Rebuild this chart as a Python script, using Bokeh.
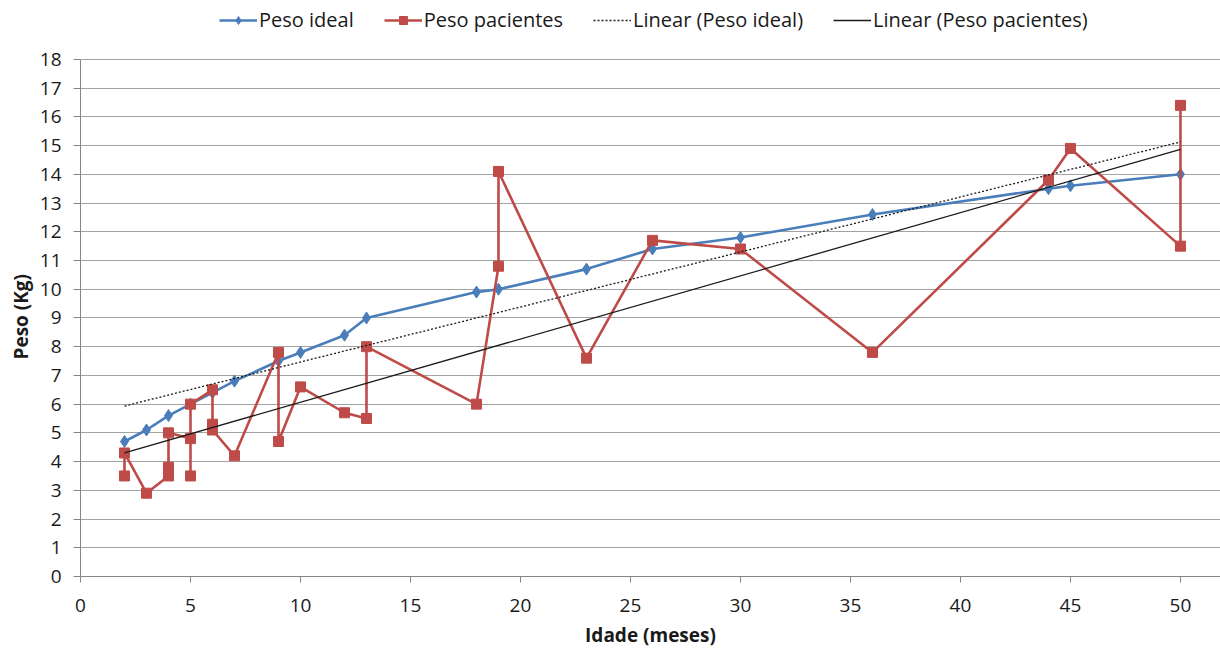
import numpy as np
from bokeh.plotting import figure
from bokeh.models import Range1d, FixedTicker, Legend, LegendItem, Title
from bokeh.embed import file_html
from bokeh.resources import INLINE

# Weight (kg) by age (months): reference weights and measured patients
ideal_age = [2, 3, 4, 5, 6, 7, 9, 10, 12, 13, 18, 19, 23, 26, 30, 36, 44, 45, 50]
ideal_weight = [4.7, 5.1, 5.6, 6.0, 6.4, 6.8, 7.5, 7.8, 8.4, 9.0, 9.9, 10.0,
                10.7, 11.4, 11.8, 12.6, 13.5, 13.6, 14.0]

patient_age = [2, 2, 3, 4, 4, 4, 5, 5, 5, 6, 6, 6, 7, 9, 9, 10, 12, 13, 13,
               18, 19, 19, 23, 26, 30, 36, 44, 45, 50, 50]
patient_weight = [3.5, 4.3, 2.9, 3.5, 3.8, 5.0, 4.8, 3.5, 6.0, 6.5, 5.3, 5.1,
                  4.2, 7.8, 4.7, 6.6, 5.7, 5.5, 8.0, 6.0, 10.8, 14.1, 7.6,
                  11.7, 11.4, 7.8, 13.8, 14.9, 11.5, 16.4]

x_ticks = [0, 5, 10, 15, 20, 25, 30, 35, 40, 45, 50]
y_ticks = list(range(0, 19))

FONT = "Open Sans"
BLUE = "#4a7ebb"
RED = "#be4b48"

# the frame also holds the legend strip above the 0-18 kg band
p = figure(width=1220, height=650, output_backend="svg", toolbar_location=None,
           x_range=Range1d(0, 51.82), y_range=Range1d(0, 20.05),
           min_border_left=80, min_border_right=0, min_border_top=0,
           min_border_bottom=73)
p.outline_line_color = None
p.background_fill_color = "white"
p.border_fill_color = "white"

# grid
p.xgrid.grid_line_color = None
p.ygrid.ticker = FixedTicker(ticks=y_ticks)
p.ygrid.grid_line_color = "#a3a3a3"
p.ygrid.grid_line_width = 1

# axes
for ax in (p.xaxis[0], p.yaxis[0]):
    ax.axis_line_color = "#868686"
    ax.major_tick_line_color = "#868686"
    ax.minor_tick_line_color = None
    ax.major_tick_in = 0
    ax.major_label_text_font = FONT
    ax.major_label_text_font_size = "19px"
    ax.major_label_text_color = "#1a1a1a"
    ax.axis_label_text_font = FONT
    ax.axis_label_text_font_size = "19px"
    ax.axis_label_text_font_style = "bold"
    ax.axis_label_text_color = "#1a1a1a"

p.xaxis.ticker = FixedTicker(ticks=x_ticks)
p.xaxis.major_tick_out = 6
p.xaxis.major_label_standoff = 16
p.xaxis.axis_label = "Idade (meses)"
p.xaxis.axis_label_standoff = 7

p.yaxis.ticker = FixedTicker(ticks=y_ticks)
p.yaxis.bounds = (0, 18)
p.yaxis.major_tick_out = 7
p.yaxis.major_label_standoff = 12

# y axis title, centred on the 0-18 band
p.add_layout(Title(text="Peso (Kg)", align="left", offset=217, standoff=6,
                   text_font=FONT, text_font_size="19px", text_font_style="bold",
                   text_color="#1a1a1a"), "left")

# series
ideal_line = p.line(ideal_age, ideal_weight, line_color=BLUE, line_width=2.6)
ideal_mark = p.scatter(ideal_age, ideal_weight, marker="diamond", size=12,
                       fill_color=BLUE, line_color=BLUE)

pat_line = p.line(patient_age, patient_weight, line_color=RED, line_width=2.6)
pat_mark = p.scatter(patient_age, patient_weight, marker="square", size=10,
                     fill_color=RED, line_color=RED)

# least-squares trend lines over each series' age span
def trend(xs, ys):
    k, b = np.polyfit(np.asarray(xs, float), np.asarray(ys, float), 1)
    x0, x1 = min(xs), max(xs)
    return [x0, x1], [k * x0 + b, k * x1 + b]

tx, ty = trend(ideal_age, ideal_weight)
ideal_trend = p.line(tx, ty, line_color="#1a1a1a", line_width=1.3, line_dash="2 2")
tx, ty = trend(patient_age, patient_weight)
pat_trend = p.line(tx, ty, line_color="#1a1a1a", line_width=1.3)

legend = Legend(items=[
    LegendItem(label="Peso ideal", renderers=[ideal_line, ideal_mark]),
    LegendItem(label="Peso pacientes", renderers=[pat_line, pat_mark]),
    LegendItem(label="Linear (Peso ideal)", renderers=[ideal_trend]),
    LegendItem(label="Linear (Peso pacientes)", renderers=[pat_trend]),
], orientation="horizontal", location=(139, 543))
legend.label_text_font = FONT
legend.label_text_font_size = "20px"
legend.label_text_color = "#1a1a1a"
legend.glyph_width = 38
legend.glyph_height = 20
legend.label_standoff = 2
legend.spacing = 30
legend.padding = 3
legend.margin = 0
legend.border_line_color = None
legend.background_fill_alpha = 0
p.add_layout(legend, "center")

open("out.html", "w").write(file_html(p, INLINE))
